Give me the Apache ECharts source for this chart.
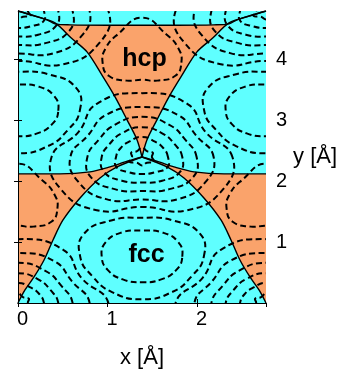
<!DOCTYPE html>
<html>
<head>
<meta charset="utf-8">
<script src="https://cdn.jsdelivr.net/npm/echarts/dist/echarts.min.js"></script>
<style>
html,body{margin:0;padding:0;background:#ffffff;}
#chart{width:339px;height:372px;}
</style>
</head>
<body>
<div id="chart"></div>
<script>
// ---------------- data (Å) ----------------
const cellWidth = 2.77;
const cellHeight = 4.8;

// adsorption-site positions
const atomSites = [[0, 0], [2.77, 0], [1.385, 2.40], [0, 4.8], [2.77, 4.8]];
const fccSites  = [[1.385, 0.76], [0, 3.16], [2.77, 3.16], [1.385, 5.56]];
const hcpSites  = [[1.385, 3.95], [0, 1.55], [2.77, 1.55], [1.385, -0.85]];

// contour loops: radius (Å) at directions 0°,30°,...,330° around a site
const loopAngles = [0, 30, 60, 90, 120, 150, 180, 210, 240, 270, 300, 330];
const atomLoopDirKind = ['b', 'f', 'b', 'h', 'b', 'f', 'b', 'h', 'b', 'f', 'b', 'h'];
const atomLoopBridge = [0.11, 0.29, 0.45, 0.61, 0.80, 1.01];
const atomLoopFcc    = [0.14, 0.28, 0.42, 0.56, 0.70, 0.82];
const atomLoopHcp    = [0.16, 0.33, 0.49, 0.66, 0.82, 1.05];
const fccLoop1 = [0.45, 0.47, 0.46, 0.43, 0.46, 0.47, 0.45, 0.44, 0.43, 0.42, 0.43, 0.44];
const fccLoop2 = [0.69, 0.75, 0.69, 0.64, 0.69, 0.75, 0.69, 0.64, 0.67, 0.70, 0.67, 0.64];
const hcpLoop1 = [0.44, 0.47, 0.54, 0.74, 0.54, 0.47, 0.44, 0.43, 0.34, 0.28, 0.34, 0.43];

// basin boundaries (left half; right half is the mirror image)
const sepUpperLeft = [[0, 4.8], [0.179, 4.72], [0.413, 4.605], [0.592, 4.359], [0.771, 4.128],
  [0.95, 3.717], [1.084, 3.388], [1.218, 3.01], [1.33, 2.681], [1.385, 2.40]];
const sepLowerLeft = [[1.385, 2.40], [1.106, 2.237], [0.916, 2.056], [0.693, 1.727], [0.503, 1.365],
  [0.391, 1.036], [0.291, 0.707], [0.179, 0.428], [0.078, 0.214], [0, 0]];
const lineMidLeft = [[0, 2.122], [0.469, 2.122], [0.804, 2.155], [1.028, 2.237], [1.196, 2.319], [1.385, 2.40]];
const lineTopLeft = [[0, 4.8], [0.324, 4.655], [0.413, 4.589], [0.581, 4.572], [1.0, 4.566], [1.385, 4.566]];

const siteNames = ['hcp', 'fcc'];
const siteLabelXY = [[1.413, 4.01], [1.436, 0.78]];

const xAxisTitle = 'x [Å]';
const yAxisTitle = 'y [Å]';

// ---------------- build ----------------
const CYAN = '#5FFFFF';
const ORANGE = '#FAA36B';
const FONT = 'Liberation Sans, Arial, sans-serif';

function mirror(pts) { return pts.map(p => [cellWidth - p[0], p[1]]); }
function rev(pts) { return pts.slice().reverse(); }

const regionPolys = [
  sepUpperLeft.concat(rev(mirror(sepUpperLeft)), mirror(lineTopLeft), rev(lineTopLeft)),
  [[0, 0]].concat(lineMidLeft, sepLowerLeft),
  mirror([[0, 0]].concat(lineMidLeft, sepLowerLeft))
];

const fccLoops = [fccLoop1, fccLoop2];
const hcpLoops = [hcpLoop1];

const contourItems = [];
atomSites.forEach(s => atomLoopBridge.forEach((_, k) => contourItems.push([s[0], s[1], 0, k])));
fccSites.forEach(s => fccLoops.forEach((_, k) => contourItems.push([s[0], s[1], 1, k])));
hcpSites.forEach(s => hcpLoops.forEach((_, k) => contourItems.push([s[0], s[1], 2, k])));

function loopRadii(fam, lev) {
  if (fam === 0) {
    return atomLoopDirKind.map(k => k === 'b' ? atomLoopBridge[lev] : (k === 'f' ? atomLoopFcc[lev] : atomLoopHcp[lev]));
  }
  return fam === 1 ? fccLoops[lev] : hcpLoops[lev];
}

function clipRect(params) {
  const cs = params.coordSys;
  return { type: 'rect', shape: { x: cs.x, y: cs.y, width: cs.width, height: cs.height } };
}

const solidLines = [
  sepUpperLeft, rev(mirror(sepUpperLeft)),
  sepLowerLeft, rev(mirror(sepLowerLeft)),
  lineMidLeft, rev(mirror(lineMidLeft)),
  lineTopLeft.concat(rev(mirror(lineTopLeft)))
];

const chart = echarts.init(document.getElementById('chart'), null, { renderer: 'canvas' });

const axisCommon = {
  type: 'value',
  axisLine: { show: true, lineStyle: { color: '#000', width: 1 } },
  axisTick: { show: true, inside: true, length: 4, lineStyle: { color: '#000', width: 1 } },
  splitLine: { show: false },
  z: 10
};

const option = {
  animation: false,
  backgroundColor: '#ffffff',
  grid: {
    left: 18, top: 11, width: 248, height: 292,
    show: true, backgroundColor: CYAN, borderWidth: 0,
    outerBoundsMode: 'none'
  },
  xAxis: [
    Object.assign({}, axisCommon, {
      position: 'bottom', min: 0, max: cellWidth, interval: 1,
      axisLabel: { show: true, color: '#000', fontSize: 20, fontFamily: FONT, margin: 6,
        showMaxLabel: false, padding: [0, 0, 0, 9] },
      name: xAxisTitle, nameLocation: 'middle', nameGap: 44,
      nameTextStyle: { color: '#000', fontSize: 22, fontFamily: FONT }
    }),
    Object.assign({}, axisCommon, {
      position: 'top', min: 0, max: cellWidth, interval: 1,
      axisLabel: { show: false }
    })
  ],
  yAxis: [
    Object.assign({}, axisCommon, {
      position: 'right', min: 0, max: cellHeight, interval: 1,
      axisLabel: { show: true, color: '#000', fontSize: 20, fontFamily: FONT, margin: 10,
        showMinLabel: false, showMaxLabel: false },
      name: yAxisTitle, nameLocation: 'middle', nameGap: 22, nameRotate: 0,
      nameTextStyle: { color: '#000', fontSize: 22, fontFamily: FONT }
    }),
    Object.assign({}, axisCommon, {
      position: 'left', min: 0, max: cellHeight, interval: 1,
      axisLabel: { show: false }
    })
  ],
  series: [
    {
      type: 'custom', name: 'basins', z: 1, silent: true,
      data: regionPolys.map((_, i) => [0, 0, i]),
      encode: { x: 0, y: 1 },
      renderItem: function (params, api) {
        const poly = regionPolys[api.value(2)];
        return {
          type: 'polygon',
          shape: { points: poly.map(p => api.coord(p)) },
          style: { fill: ORANGE, stroke: null }
        };
      }
    },
    {
      type: 'custom', name: 'contours', z: 3, silent: true,
      data: contourItems,
      encode: { x: 0, y: 1 },
      renderItem: function (params, api) {
        const cx = api.value(0), cy = api.value(1);
        const radii = loopRadii(api.value(2), api.value(3));
        const pts = loopAngles.map((a, i) => {
          const t = a * Math.PI / 180;
          return api.coord([cx + radii[i] * Math.cos(t), cy + radii[i] * Math.sin(t)]);
        });
        return {
          type: 'group',
          clipPath: clipRect(params),
          children: [{
            type: 'polygon',
            shape: { points: pts, smooth: 0.5 },
            style: { fill: 'none', stroke: '#000', lineWidth: 2, lineDash: [6, 3.5] }
          }]
        };
      }
    }
  ].concat(solidLines.map(pts => ({
    type: 'line', z: 4, silent: true, data: pts, smooth: 0.3,
    showSymbol: false, symbol: 'none',
    lineStyle: { color: '#000', width: 1.4 }
  }))).concat([{
    type: 'scatter', z: 6, silent: true, symbolSize: 0,
    itemStyle: { opacity: 1 },
    data: siteLabelXY.map((p, i) => ({ value: p, name: siteNames[i] })),
    label: { show: true, position: 'inside', formatter: '{b}', color: '#000', opacity: 1,
      fontSize: 25, fontWeight: 'bold', fontFamily: FONT, textBorderWidth: 0 }
  }])
};

chart.setOption(option);
</script>
</body>
</html>
